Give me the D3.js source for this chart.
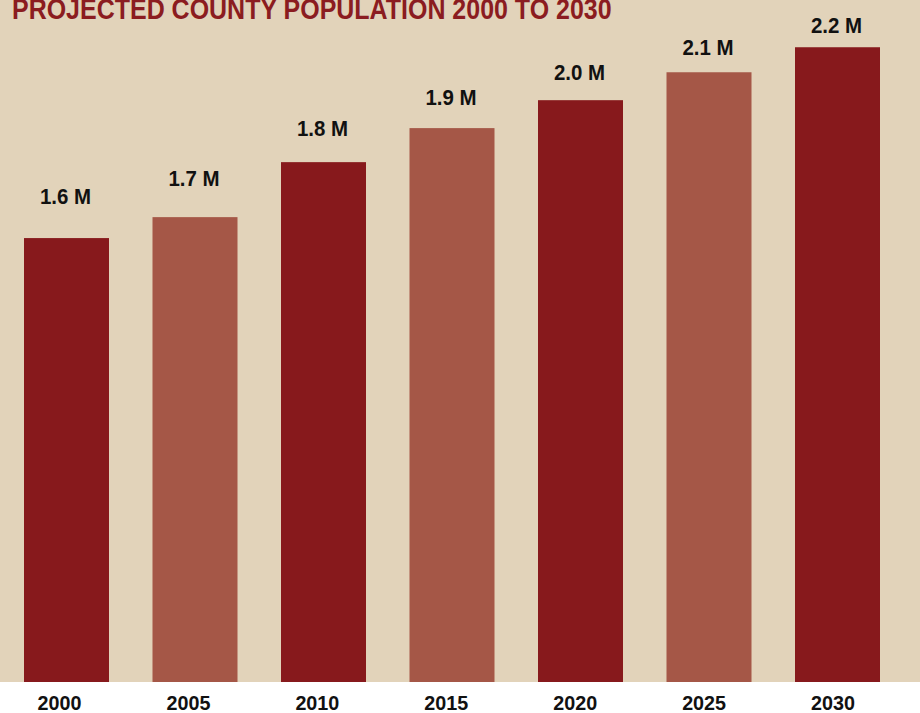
<!DOCTYPE html>
<html>
<head>
<meta charset="utf-8">
<script src="https://cdn.jsdelivr.net/npm/d3@7"></script>
<style>
  html, body { margin: 0; padding: 0; background: #fff; }
  svg { display: block; }
</style>
</head>
<body>
<svg id="chart" width="920" height="713"></svg>
<script>
// projected population, millions
const years = ["2000", "2005", "2010", "2015", "2020", "2025", "2030"];
const population = [1.526, 1.598, 1.787, 1.904, 2.0, 2.096, 2.182];
const valueLabels = ["1.6 M", "1.7 M", "1.8 M", "1.9 M", "2.0 M", "2.1 M", "2.2 M"];
const title = "PROJECTED COUNTY POPULATION 2000 TO 2030";

const width = 920, height = 713;
const plotBottom = 682;
// no condensed face installed, so squeeze Liberation Sans horizontally
const font = "'Liberation Sans', Arial, sans-serif";

const svg = d3.select("#chart");

// beige panel
svg.append("rect")
  .attr("width", width)
  .attr("height", plotBottom)
  .attr("fill", "#e2d3ba");

const x = d3.scaleBand()
  .domain(years)
  .range([2.25, 901.75])
  .paddingInner(0.3385)
  .paddingOuter(0.16925);

// year labels in the original sit a little left of the bar centres
const xYear = d3.scalePoint()
  .domain(years)
  .range([59, 832.5]);

const y = d3.scaleLinear()
  .domain([0, 2.2])
  .range([plotBottom, 42]);

// labels sit on a slightly compressed scale (gap shrinks as bars grow)
const yLabel = d3.scaleLinear()
  .domain([0, 2.2])
  .range([y(0) - 78, y(2.2) - 14]);

const color = i => i % 2 === 0 ? "#87191c" : "#a55747";

svg.append("g")
  .selectAll("rect")
  .data(years)
  .enter()
  .append("rect")
  .attr("x", d => x(d))
  .attr("width", x.bandwidth())
  .attr("y", (d, i) => y(population[i]))
  .attr("height", (d, i) => y(0) - y(population[i]))
  .attr("fill", (d, i) => color(i));

svg.append("g")
  .selectAll("text")
  .data(years)
  .enter()
  .append("text")
  .attr("transform", (d, i) =>
    `translate(${x(d) + x.bandwidth() / 2 - 1}, ${yLabel(population[i])}) scale(0.93, 1)`)
  .attr("text-anchor", "middle")
  .style("font-family", font)
  .style("font-weight", "bold")
  .style("font-size", "22px")
  .attr("fill", "#111")
  .text((d, i) => valueLabels[i]);

// year axis under the panel
const xAxis = svg.append("g")
  .attr("transform", `translate(0, ${plotBottom})`)
  .call(d3.axisBottom(xYear).tickSize(0).tickPadding(0));
xAxis.select(".domain").remove();
xAxis.selectAll("text")
  .attr("y", 0)
  .attr("dy", null)
  .attr("transform", "translate(0, 28) scale(0.94, 1)")
  .style("font-family", font)
  .style("font-weight", "bold")
  .style("font-size", "21px")
  .attr("fill", "#111");

svg.append("text")
  .attr("transform", "translate(12, 19) scale(0.833, 1)")
  .style("font-family", font)
  .style("font-weight", "bold")
  .style("font-size", "30px")
  .attr("fill", "#8b1c20")
  .text(title);
</script>
</body>
</html>
